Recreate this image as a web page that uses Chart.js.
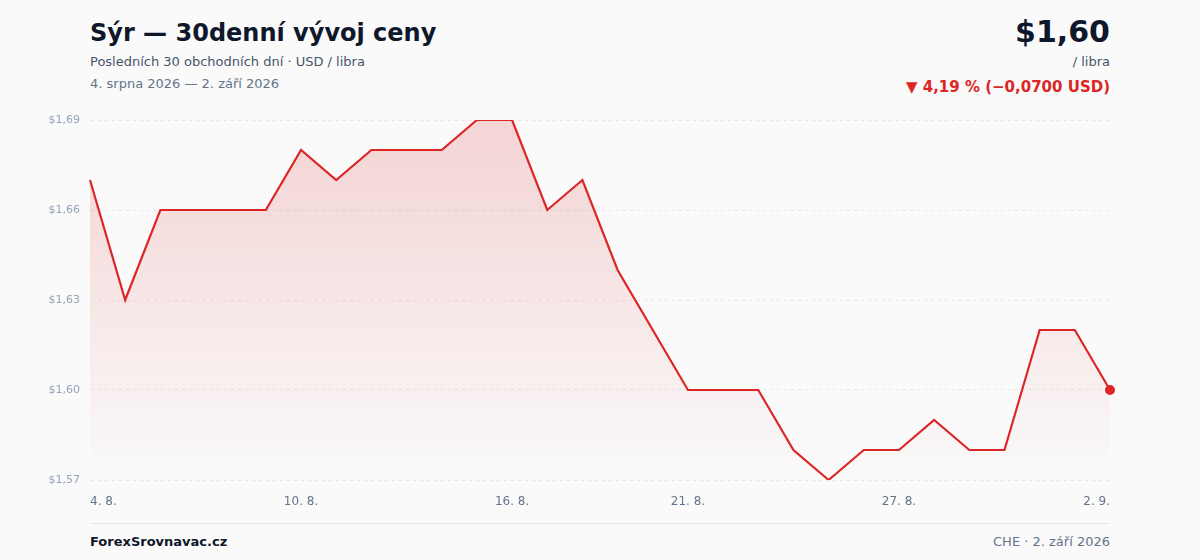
<!DOCTYPE html>
<html lang="cs">
<head>
<meta charset="utf-8">
<script src="https://cdn.jsdelivr.net/npm/chart.js@4/dist/chart.umd.min.js"></script>
<style>
    body { margin: 0; background: #fafafa; font-family: "DejaVu Sans", sans-serif; }
    #stranka { position: relative; width: 1200px; height: 560px; overflow: hidden; }
    .abs { position: absolute; white-space: nowrap; }
    #nadpis { left: 90px; top: 19px; font-size: 24px; font-weight: bold; color: #0f172a; }
    #podnadpis { left: 90px; top: 54px; font-size: 13px; color: #475569; }
    #obdobi { left: 90px; top: 76px; font-size: 13px; color: #64748b; }
    #cena { right: 90px; top: 14px; font-size: 30px; font-weight: bold; color: #0f172a; }
    #jednotka { right: 90px; top: 54px; font-size: 13px; color: #475569; }
    #zmena { right: 90px; top: 78px; font-size: 15px; font-weight: bold; color: #dc2626; }
    #graf { left: 0; top: 100px; width: 1200px; height: 420px; }
    #cara { left: 90px; top: 523px; width: 1020px; height: 1px; background: #e5e7eb; }
    #zdroj { left: 90px; top: 534px; font-size: 13px; font-weight: bold; color: #0f172a; }
    #datum { right: 90px; top: 534px; font-size: 13px; color: #64748b; }
</style>
</head>
<body>
<div id="stranka">
    <div class="abs" id="nadpis">Sýr — 30denní vývoj ceny</div>
    <div class="abs" id="podnadpis">Posledních 30 obchodních dní · USD / libra</div>
    <div class="abs" id="obdobi">4. srpna 2026 — 2. září 2026</div>
    <div class="abs" id="cena">$1,60</div>
    <div class="abs" id="jednotka">/ libra</div>
    <div class="abs" id="zmena">▼ 4,19 % (−0,0700 USD)</div>
    <div class="abs" id="graf"><canvas id="platno"></canvas></div>
    <div class="abs" id="cara"></div>
    <div class="abs" id="zdroj">ForexSrovnavac.cz</div>
    <div class="abs" id="datum">CHE · 2. září 2026</div>
</div>

<script>
const dny = [
    "4. 8.", "5. 8.", "6. 8.", "7. 8.", "8. 8.", "9. 8.", "10. 8.", "11. 8.", "12. 8.", "13. 8.",
    "14. 8.", "15. 8.", "16. 8.", "17. 8.", "18. 8.", "19. 8.", "20. 8.", "21. 8.", "22. 8.", "23. 8.",
    "24. 8.", "25. 8.", "26. 8.", "27. 8.", "28. 8.", "29. 8.", "30. 8.", "31. 8.", "1. 9.", "2. 9."
]
const ceny = [
    1.67, 1.63, 1.66, 1.66, 1.66, 1.66, 1.68, 1.67, 1.68, 1.68,
    1.68, 1.69, 1.69, 1.66, 1.67, 1.64, 1.62, 1.60, 1.60, 1.60,
    1.58, 1.57, 1.58, 1.58, 1.59, 1.58, 1.58, 1.62, 1.62, 1.60
]
const zobrazeneDny = ["4. 8.", "10. 8.", "16. 8.", "21. 8.", "27. 8.", "2. 9."]
const osaY = [1.57, 1.60, 1.63, 1.66, 1.69]

const cervena = "#dc2626"

// gradient pod čarou, mizí k dolnímu okraji
function vypln(context) {
    const area = context.chart.chartArea
    if (!area) return "rgba(220,38,38,0.15)"
    const g = context.chart.ctx.createLinearGradient(0, area.top, 0, area.bottom)
    g.addColorStop(0, "rgba(220,38,38,0.18)")
    g.addColorStop(0.9, "rgba(220,38,38,0.02)")
    g.addColorStop(1, "rgba(220,38,38,0)")
    return g
}

const posledni = ceny.length - 1

new Chart(document.getElementById("platno"), {
    type: "line",
    data: {
        labels: dny,
        datasets: [{
            data: ceny,
            borderColor: cervena,
            borderWidth: 2.2,
            backgroundColor: vypln,
            fill: "start",
            tension: 0,
            pointRadius: c => c.dataIndex === posledni ? 5 : 0,
            pointBackgroundColor: cervena,
            pointBorderWidth: 0,
            pointHoverRadius: 0
        }]
    },
    options: {
        responsive: true,
        maintainAspectRatio: false,
        animation: false,
        layout: { padding: { top: 20, right: 90, left: 0, bottom: 0 } },
        plugins: { legend: { display: false }, tooltip: { enabled: false } },
        scales: {
            x: {
                grid: { display: false, drawTicks: false },
                border: { display: false },
                afterFit: s => { s.height = 40 },
                ticks: {
                    autoSkip: false,
                    maxRotation: 0,
                    align: "inner",
                    padding: 15,
                    color: "#64748b",
                    font: { family: "DejaVu Sans", size: 12 },
                    callback: function (v, i) {
                        const t = dny[i]
                        return zobrazeneDny.includes(t) ? t : ""
                    }
                }
            },
            y: {
                min: osaY[0],
                max: osaY[osaY.length - 1],
                afterFit: s => { s.width = 90 },
                afterBuildTicks: s => { s.ticks = osaY.map(v => ({ value: v })) },
                grid: { color: "#e6e6ea", drawTicks: false, lineWidth: 1 },
                border: { display: true, color: "rgba(0,0,0,0)", dash: [3, 4] },
                ticks: {
                    padding: 10,
                    color: "#94a3b8",
                    font: { family: "DejaVu Sans", size: 11 },
                    callback: v => "$" + v.toFixed(2).replace(".", ",")
                }
            }
        }
    }
})
</script>
</body>
</html>
